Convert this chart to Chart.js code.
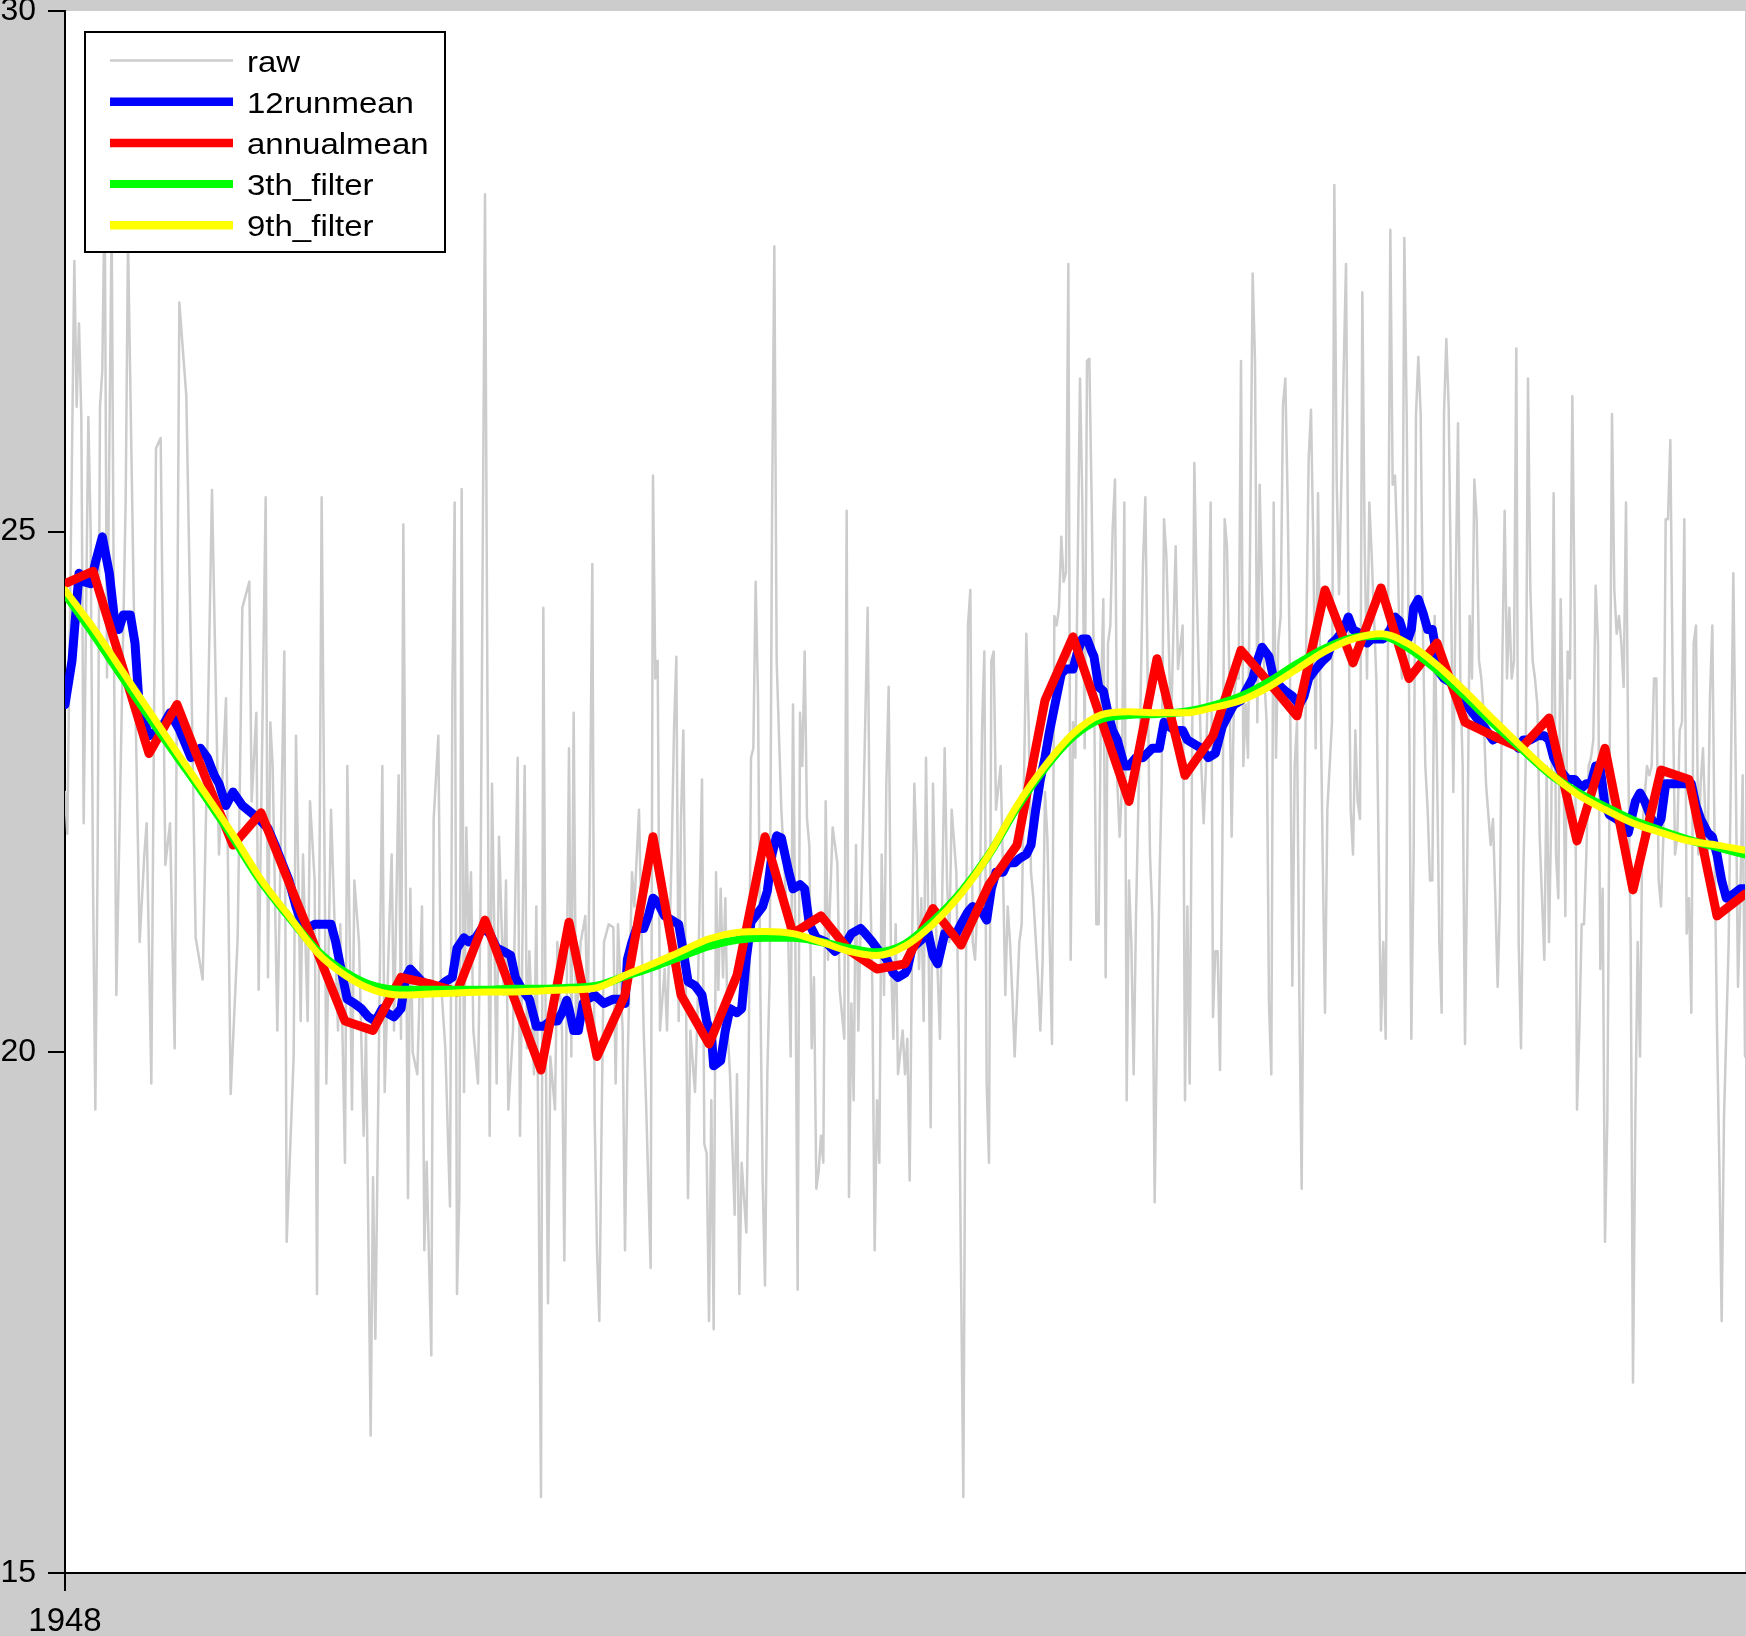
<!DOCTYPE html>
<html><head><meta charset="utf-8">
<script src="https://cdn.jsdelivr.net/npm/chart.js@4.4.0/dist/chart.umd.min.js"></script>
<style>html,body{margin:0;padding:0;background:#cccccc;overflow:hidden}canvas{display:block}</style>
</head><body>
<canvas id="c" width="1746" height="1636"></canvas>
<script>
// ---- data (x = months since Jan 1948) ----
const startYear = 1948;
const xTickMonths = [0];
const xTickLabels = ['1948'];
const yTicks = [15, 20, 25, 30];
const seriesNames = ['raw', '12runmean', 'annualmean', '3th_filter', '9th_filter'];

const rawPoints = [
[0,22.5],[1,22.1],[4,27.6],[5,26.2],[6,27.0],[7,26.1],[8,22.2],[10,26.1],[11,25.0],[12,21.65],[13,19.45],[14,21.9],[15,26.2],[16,26.55],[17,28.3],[18,23.6],[20,28.0],[21,23.9],[22,20.55],[24,22.9],[26,25.3],[27,27.8],[30,23.6],[32,21.06],[34,21.9],[35,22.2],[37,19.7],[39,25.8],[41,25.9],[43,21.8],[45,22.2],[47,20.04],[49,27.2],[52,26.3],[54,23.8],[56,21.1],[59,20.7],[61,22.9],[63,25.4],[66,21.9],[69,23.4],[71,19.6],[74,21.1],
[76,24.27],[79,24.52],[80,22.41],[82,23.26],[83,20.6],[86,25.33],[87,20.72],[88,23.17],[89,22.75],[91,20.21],[94,23.85],[95,18.18],[98,19.96],[99,23.04],[101,20.3],[102,21.9],[104,20.3],[105,22.41],[107,21.65],[108,17.68],[110,25.33],[112,19.7],[114,22.33],[117,20.21],[118,21.23],[120,18.94],[121,22.75],[123,19.45],[124,21.65],[126,21.06],[128,19.2],[129,20.21],[131,16.32],[132,18.8],[133,17.25],[136,22.75],[137,19.62],[139,21.23],[140,21.9],[141,20.21],[143,22.66],[144,20.13],[145,25.07],[147,18.6],[148,21.57],[149,20.0],
[151,19.79],[153,21.4],[154,18.1],[155,18.95],[157,17.09],[158,22.24],[160,23.04],[161,20.72],[163,20.04],[165,18.52],[166,23.42],[167,25.28],[168,17.68],[169,18.61],[170,25.41],[171,19.62],[172,22.16],[173,21.06],[174,21.73],[175,20.21],[177,19.7],[178,21.23],[180,28.24],[181,23.59],[182,19.2],[183,22.58],[185,19.7],[186,22.07],[188,20.55],[189,21.65],[190,19.45],[192,20.21],[194,22.83],[195,19.2],[197,22.75],[198,20.04],[199,20.97],[201,19.79],[202,21.4],[203,18.77],[204,15.73],[205,24.27],[206,20.21],[207,17.59],[208,19.96],[210,19.45],[211,21.06],[213,20.21],[214,18.0],[216,22.92],[217,19.96],[218,23.26],[219,20.21],[221,21.06],
[223,21.31],[224,20.21],[225,22.24],[226,24.69],[227,19.37],[228,18.1],[229,17.42],[230,19.37],[231,21.06],[233,21.23],[235,21.2],[236,19.7],[237,21.23],[239,20.21],[240,18.1],[241,19.79],[243,21.73],[244,21.4],[246,22.33],[248,20.21],[249,19.54],[251,17.93],[252,25.54],[253,23.59],[254,23.76],[255,20.21],[257,20.8],[258,20.21],[260,21.9],[261,23.09],[262,23.8],[263,20.3],[264,22.24],[265,23.09],[267,18.6],[268,20.21],[270,19.62],[271,20.3],[273,22.62],[274,19.12],[275,19.03],[276,17.42],[277,19.54],[278,17.34],[279,21.73],[280,20.6],[281,21.57],[282,20.72],[283,21.48],[284,20.21],[285,19.79],[287,18.44],[288,19.79],[289,17.68],[290,18.94],[292,18.27],[293,19.87],[294,22.83],
[295,22.92],[296,24.52],[297,23.42],[298,20.6],[299,18.77],[300,17.76],[301,19.79],[302,20.72],[303,25.12],[304,27.74],[305,23.76],[307,22.33],[310,21.06],[311,19.96],[312,23.34],[313,21.06],[314,17.72],[315,23.26],[316,22.75],[317,23.85],[318,22.24],[319,21.99],[320,20.04],[321,20.72],[322,18.69],[323,18.86],[324,19.2],[325,18.94],[326,22.41],[327,20.89],[329,22.16],[331,21.82],[332,20.6],[334,20.13],[335,25.2],[336,18.61],[337,20.47],[338,19.54],[339,21.99],[340,20.21],[341,21.23],[342,22.16],[344,24.27],[345,21.73],[346,20.63],[347,18.1],[348,19.54],[349,18.94],[350,21.9],[351,20.55],[352,22.58],[353,23.51],[354,20.89],[355,20.13],[356,21.23],[357,19.79],[359,20.21],[360,19.79],[361,20.13],[362,18.77],[363,20.97],[364,22.58],[365,21.9],[366,20.8],
[367,21.48],[368,20.3],[369,22.83],[370,21.23],[371,19.28],[372,22.58],[373,21.4],[375,20.13],[376,21.57],[377,22.92],[378,21.65],[379,21.06],[380,22.33],[382,21.73],[383,20.21],[384,17.9],[385,15.73],[386,20.21],[387,24.1],[388,24.44],[389,21.06],[390,20.89],[391,21.4],[392,21.31],[393,23.09],[394,23.85],[395,19.7],[396,18.94],[397,23.76],[398,23.85],[399,22.33],[401,22.75],[402,21.73],[403,20.55],[404,21.4],[405,21.06],[406,20.55],[407,19.96],[409,21.06],[410,21.23],[412,24.02],[413,23.17],[414,21.73],[415,21.48],[417,20.72],[418,20.21],[419,20.89],[420,22.5],[421,22.07],[422,21.06],[423,20.08],[424,24.19],[425,24.1],[426,24.27],[427,24.95],[428,24.52],[429,24.61],[430,27.57],[431,20.89],[432,23.17],[433,22.83],[435,26.47],[436,25.28],[437,22.92],[438,26.64],
[439,26.66],[440,25.28],[441,23.59],[442,21.23],[443,21.23],[444,23.42],[445,24.35],[446,20.72],[447,23.93],[448,24.1],[449,25.03],[450,25.5],[451,22.58],[452,22.07],[453,22.58],[454,25.28],[455,19.54],[456,21.65],[457,21.06],[458,19.79],[459,21.31],[461,23.42],[462,24.69],[463,25.33],[464,23.59],[465,21.9],[466,21.31],[467,18.56],[468,20.21],[469,21.57],[470,22.58],[471,25.12],[472,24.78],[474,23.09],[475,24.02],[476,24.86],[477,23.68],[479,24.1],[480,19.54],[481,21.4],[482,19.7],[483,22.75],[484,25.66],[485,24.44],[486,23.59],[487,22.75],[488,22.2],[489,22.75],[490,23.76],[491,25.28],[492,20.34],[493,20.97],[494,20.97],[495,19.83],[496,21.9],[497,25.12],[498,24.86],[499,23.59],[500,22.07],[501,23.42],[502,23.59],[503,23.59],[504,26.64],[505,22.75],[506,23.34],[507,22.83],[508,25.12],[509,27.48],[510,26.64],[511,23.17],
[512,25.45],[513,24.44],[514,23.59],[515,23.17],[516,20.47],[517,19.79],[518,25.28],[519,22.83],[520,23.93],[521,24.19],[522,26.22],[523,26.47],[524,25.28],[525,23.59],[526,20.64],[527,22.75],[528,23.17],[529,20.55],[530,18.69],[531,21.73],[532,24.02],[533,25.7],[534,26.17],[535,24.86],[536,22.92],[537,25.37],[538,23.59],[539,21.9],[540,20.38],[541,22.33],[542,22.75],[543,23.17],[544,28.33],[545,25.5],[546,24.4],[547,25.45],[548,26.55],[549,27.57],[550,24.44],[551,22.33],[552,21.9],[553,23.09],[554,22.41],[555,22.24],[556,27.3],[557,24.86],[558,23.59],[559,25.28],[560,24.78],[562,23.59],[563,21.9],[564,20.21],[565,21.06],[566,20.13],[567,24.0],[568,27.9],[569,25.45],[570,25.54],[571,24.86],[572,23.93],[573,23.59],[574,27.82],[575,26.13],[576,23.59],[577,20.13],[578,21.9],[579,26.13],[580,26.68],[581,26.13],[582,24.0],
[583,22.75],[584,22.33],[585,21.65],[586,21.65],[587,24.19],[588,22.75],[589,21.06],[590,20.38],[591,26.13],[592,26.85],[593,26.2],[594,24.44],[595,22.5],[596,24.44],[597,26.04],[598,23.59],[599,22.75],[600,20.08],[601,21.9],[602,24.19],[603,23.59],[604,25.5],[605,25.12],[606,23.76],[607,23.59],[608,23.26],[609,22.58],[611,21.99],[612,22.24],[613,21.48],[614,20.63],[615,21.48],[616,23.76],[617,25.2],[618,23.59],[619,24.27],[620,23.59],[621,23.76],[622,26.76],[623,21.06],[624,20.04],[625,21.73],[626,22.75],[627,26.47],[628,24.44],[629,23.76],[630,23.59],[631,23.34],[632,22.07],[633,21.48],[634,20.89],[635,22.75],[636,21.06],[637,22.33],[638,25.37],[639,21.9],[640,21.48],[641,24.35],[642,23.17],[643,21.31],[644,23.85],[645,23.59],[646,26.3],[647,24.19],[648,19.45],[649,20.21],[650,21.23],[651,21.23],[652,21.9],[653,22.75],[654,22.83],
[655,23.0],[656,24.48],[657,23.93],[658,20.8],[659,21.57],[660,18.18],[661,19.37],[662,22.75],[663,26.13],[664,24.44],[665,24.02],[666,24.19],[667,23.93],[668,23.51],[669,25.28],[670,22.75],[671,21.06],[672,16.83],[673,19.37],[674,21.06],[675,19.96],[676,22.16],[678,22.75],[679,22.66],[680,22.75],[681,23.59],[682,23.59],[683,21.65],[684,21.4],[685,22.07],[686,25.12],[687,25.12],[688,25.88],[689,23.59],[690,21.9],[691,22.07],[692,23.09],[693,23.17],[694,25.12],[695,21.14],[696,21.48],[697,20.38],[698,23.93],[699,24.1],[700,21.9],[701,22.58],[702,22.92],[703,22.24],[704,21.9],[705,23.42],[706,24.1],[707,21.9],[708,20.21],[709,18.94],[710,17.42],[711,19.37],[712,20.21],[713,21.06],[714,22.75],[715,24.6],[716,22.75],[717,20.63],[718,21.48],[719,22.66],[720,19.96]
];

const runMeanPoints = [
[0,23.34],[3,23.76],[6,24.6],[8,24.52],[11,24.5],[13,24.7],[16,24.95],[19,24.6],[21,24.2],[23,24.06],[25,24.2],[28,24.2],[30,23.93],[32,23.26],[34,23.17],[36,23.04],[41,23.1],[45,23.26],[49,23.1],[54,22.83],[58,22.92],[61,22.83],[64,22.66],[66,22.58],[69,22.37],[72,22.5],
[76,22.37],[81,22.28],[84,22.22],[87,22.15],[90,21.99],[93,21.82],[96,21.65],[99,21.4],[101,21.27],[104,21.19],[107,21.23],[110,21.23],[114,21.23],[116,21.06],[119,20.72],[121,20.51],[124,20.47],[127,20.42],[130,20.34],[133,20.3],[136,20.42],[138,20.38],[141,20.34],[144,20.42],[146,20.72],[148,20.8],[153,20.68],[156,20.64],[159,20.6],[163,20.68],[166,20.72],[168,21.0],[171,21.1],[173,21.06],[176,21.1],[179,21.2],[182,21.14],[185,21.0],[188,20.97],[191,20.93],[193,20.72],[196,20.6],[199,20.51],[202,20.25],[205,20.25],[208,20.3],[211,20.3],[213,20.38],[215,20.5],[216,20.42],[218,20.21],[220,20.21],
[222,20.47],[224,20.51],[227,20.55],[231,20.47],[235,20.51],[238,20.51],[240,20.47],[241,20.89],[243,21.06],[245,21.19],[248,21.19],[250,21.31],[252,21.48],[254,21.44],[257,21.31],[260,21.27],[263,21.23],[265,20.97],[267,20.68],[270,20.64],[273,20.55],[275,20.3],[277,20.17],[278,19.87],[281,19.92],[283,20.21],[285,20.42],[288,20.38],[290,20.42],[292,20.9],[294,21.25],[296,21.31],[299,21.4],[301,21.55],[303,21.9],[305,22.08],[307,22.06],[310,21.75],[312,21.57],[315,21.61],[317,21.57],[319,21.23],[322,21.1],[326,21.06],[330,20.97],[335,21.06],[337,21.14],[341,21.19],[343,21.14],[346,21.06],[349,20.97],[352,20.9],[355,20.76],[357,20.72],[360,20.76],[361,20.8],[363,21.0],
[366,21.06],[370,21.14],[372,20.93],[374,20.85],[377,21.14],[379,21.14],[382,21.14],[384,21.23],[387,21.35],[389,21.4],[393,21.35],[395,21.27],[397,21.57],[399,21.73],[402,21.73],[404,21.82],[407,21.82],[409,21.86],[412,21.9],[414,21.99],[416,22.33],[418,22.62],[420,22.83],[422,23.09],[425,23.42],[427,23.64],[429,23.68],[432,23.68],[434,23.85],[436,23.97],[438,23.97],[440,23.85],[441,23.8],[443,23.51],[445,23.47],[447,23.26],[449,23.09],[451,23.0],[454,22.75],[456,22.75],[459,22.83],[462,22.83],[466,22.92],[469,22.92],[471,23.17],[473,23.13],[476,23.09],[479,23.09],[481,23.0],[484,22.96],[487,22.92],[490,22.83],[493,22.87],[496,23.13],[499,23.26],[501,23.34],[504,23.38],
[507,23.51],[509,23.59],[511,23.76],[513,23.89],[516,23.8],[518,23.59],[521,23.51],[523,23.47],[526,23.42],[529,23.34],[531,23.42],[533,23.59],[536,23.68],[539,23.76],[541,23.8],[543,23.93],[545,23.97],[548,24.06],[550,24.18],[552,24.06],[555,24.02],[558,23.93],[560,23.97],[565,23.97],[568,24.06],[570,24.18],[572,24.14],[575,23.93],[577,24.06],[578,24.27],[580,24.35],[582,24.22],[584,24.06],[586,24.06],[587,23.93],[588,23.68],[591,23.59],[594,23.55],[597,23.47],[600,23.38],[602,23.3],[605,23.21],[608,23.13],[612,23.0],[615,23.04],[620,23.0],[623,22.92],[625,23.0],[628,23.0],[631,23.04],[634,23.04],[636,23.0],[638,22.83],[641,22.7],[644,22.62],[647,22.62],[650,22.54],[652,22.58],[654,22.58],
[656,22.75],[658,22.72],[660,22.37],[662,22.28],[665,22.24],[667,22.2],[670,22.11],[673,22.41],[675,22.49],[677,22.41],[680,22.24],[682,22.16],[684,22.24],[686,22.58],[688,22.58],[691,22.58],[694,22.58],[697,22.58],[699,22.37],[701,22.24],[704,22.11],[706,22.07],[708,21.9],[710,21.65],[712,21.48],[715,21.52],[718,21.57],[720,21.57]
];

// one value per year, 1948 ... 2008
const annualMean = [24.5,24.62,23.75,22.87,23.34,22.65,21.99,22.3,21.63,20.97,20.3,20.21,20.72,20.66,20.58,21.27,20.55,19.83,21.25,19.96,20.55,22.07,20.55,20.08,20.74,22.07,21.14,21.31,20.98,20.8,20.85,21.38,21.03,21.61,21.99,23.38,23.99,23.2,22.41,23.78,22.66,23.04,23.86,23.55,23.23,24.44,23.74,24.46,23.59,23.93,23.17,23.04,22.92,23.21,22.03,22.92,21.56,22.71,22.62,21.31,21.52];
const filter3 = [24.40,24.02,23.62,23.22,22.84,22.46,22.06,21.64,21.30,20.98,20.77,20.64,20.60,20.60,20.60,20.60,20.61,20.61,20.62,20.64,20.73,20.82,20.92,21.02,21.08,21.10,21.10,21.06,21.00,20.96,21.04,21.26,21.54,21.90,22.35,22.73,23.03,23.20,23.24,23.25,23.27,23.33,23.42,23.56,23.73,23.88,23.98,24.00,23.88,23.67,23.42,23.16,22.92,22.68,22.50,22.36,22.23,22.13,22.04,21.97,21.90];
const filter9 = [24.44,24.08,23.68,23.28,22.88,22.49,22.09,21.66,21.31,20.96,20.74,20.60,20.55,20.56,20.57,20.58,20.58,20.59,20.60,20.62,20.74,20.85,20.97,21.09,21.15,21.16,21.14,21.06,20.97,20.93,21.02,21.23,21.52,21.90,22.37,22.75,23.06,23.24,23.27,23.26,23.26,23.31,23.38,23.51,23.68,23.85,23.97,24.02,23.92,23.72,23.47,23.20,22.94,22.69,22.48,22.33,22.20,22.11,22.03,21.99,21.94];

// ---- build ----
const toXY = pts => pts.map(p => ({x: p[0], y: p[1]}));
const yearly = vals => vals.map((v, i) => ({x: i * 12, y: v}));
const FONT = '"Liberation Sans", Arial, Helvetica, sans-serif';

const bgPlugin = {
  id: 'bgPlugin',
  beforeDraw(chart) {
    const {ctx, chartArea: a} = chart;
    ctx.save();
    ctx.fillStyle = '#cccccc';
    ctx.fillRect(0, 0, chart.width, chart.height);
    ctx.fillStyle = '#ffffff';
    ctx.fillRect(a.left, a.top, a.right - a.left, a.bottom - a.top);
    ctx.restore();
  }
};

const legendPlugin = {
  id: 'legendPlugin',
  afterDraw(chart) {
    const ctx = chart.ctx;
    ctx.save();
    const bx = 85, by = 32, bw = 360, bh = 220;
    ctx.fillStyle = '#ffffff';
    ctx.fillRect(bx, by, bw, bh);
    ctx.lineWidth = 2;
    ctx.strokeStyle = '#000000';
    ctx.strokeRect(bx, by, bw, bh);
    chart.data.datasets.forEach((ds, i) => {
      const y = 60.5 + i * 41.2;
      ctx.beginPath();
      ctx.moveTo(110, y);
      ctx.lineTo(233, y);
      ctx.strokeStyle = ds.borderColor;
      ctx.lineWidth = ds.legendWidth;
      ctx.lineCap = 'butt';
      ctx.stroke();
      ctx.save();
      ctx.translate(247, y + 11);
      ctx.scale(1.1, 1);
      ctx.fillStyle = '#000000';
      ctx.font = '30px ' + FONT;
      ctx.textBaseline = 'alphabetic';
      ctx.textAlign = 'left';
      ctx.fillText(ds.label, 0, 0);
      ctx.restore();
    });
    ctx.restore();
  }
};

const lineBase = {pointRadius: 0, borderJoinStyle: 'round', borderCapStyle: 'round', tension: 0, clip: 0};

new Chart(document.getElementById('c'), {
  type: 'line',
  data: {
    datasets: [
      Object.assign({}, lineBase, {label: seriesNames[0], data: toXY(rawPoints), borderColor: '#cccccc', borderWidth: 2.5, legendWidth: 2.7, order: 5}),
      Object.assign({}, lineBase, {label: seriesNames[1], data: toXY(runMeanPoints), borderColor: '#0000ff', borderWidth: 9, legendWidth: 8.5, order: 4}),
      Object.assign({}, lineBase, {label: seriesNames[2], data: yearly(annualMean), borderColor: '#ff0000', borderWidth: 9, legendWidth: 8.5, order: 3}),
      Object.assign({}, lineBase, {label: seriesNames[3], data: yearly(filter3), borderColor: '#00ff00', borderWidth: 8, legendWidth: 8, order: 2, cubicInterpolationMode: 'monotone'}),
      Object.assign({}, lineBase, {label: seriesNames[4], data: yearly(filter9), borderColor: '#ffff00', borderWidth: 7, legendWidth: 8.5, order: 1, cubicInterpolationMode: 'monotone'})
    ]
  },
  options: {
    responsive: false,
    animation: false,
    devicePixelRatio: 1,
    layout: {padding: {top: 11, right: 1, left: 0, bottom: 0}},
    plugins: {legend: {display: false}, tooltip: {enabled: false}},
    scales: {
      x: {
        type: 'linear', min: 0, max: 720,
        afterBuildTicks(s) { s.ticks = xTickMonths.map(v => ({value: v})); },
        afterFit(s) { s.height = 63; s.paddingLeft = 0; s.paddingRight = 0; },
        ticks: {
          autoSkip: false, maxRotation: 0, padding: 11, color: '#000000',
          font: {family: FONT, size: 33},
          callback: v => { const i = xTickMonths.indexOf(v); return i >= 0 ? xTickLabels[i] : ''; }
        },
        grid: {display: true, drawOnChartArea: false, drawTicks: true, tickLength: 18, color: '#000000', lineWidth: 2},
        border: {display: true, color: '#000000', width: 2}
      },
      y: {
        type: 'linear', min: 15, max: 30,
        afterBuildTicks(s) { s.ticks = yTicks.map(v => ({value: v})); },
        afterFit(s) { s.width = 65; s.paddingTop = 0; s.paddingBottom = 0; },
        ticks: {padding: 12, color: '#000000', font: {family: FONT, size: 32}},
        grid: {display: true, drawOnChartArea: false, drawTicks: true, tickLength: 17, color: '#000000', lineWidth: 2},
        border: {display: true, color: '#000000', width: 2}
      }
    }
  },
  plugins: [bgPlugin, legendPlugin]
});
</script>
</body></html>
